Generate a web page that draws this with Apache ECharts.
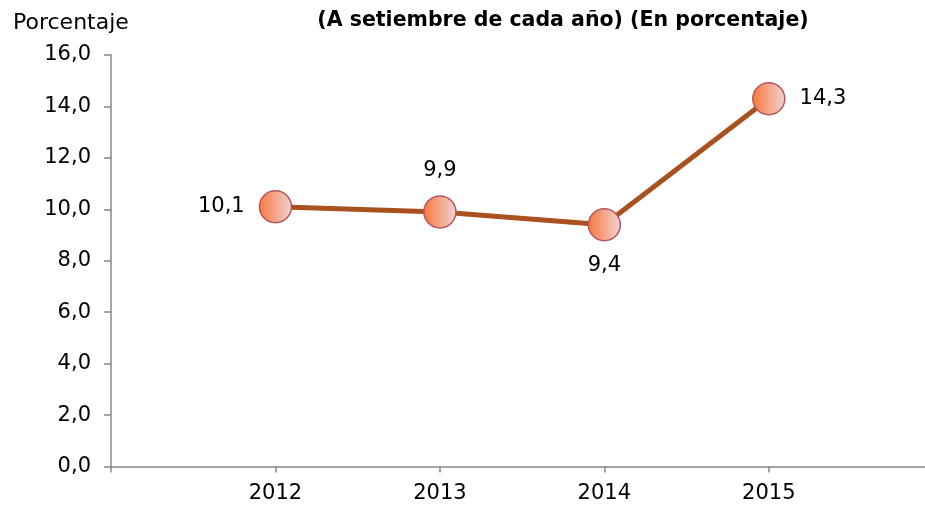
<!DOCTYPE html>
<html>
<head>
<meta charset="utf-8">
<script src="https://cdn.jsdelivr.net/npm/echarts@6/dist/echarts.min.js"></script>
<style>
  html, body { margin: 0; padding: 0; background: #fff; }
  #chart { width: 925px; height: 508px; }
</style>
</head>
<body>
<div id="chart"></div>
<script>
// datos
const years = [2012, 2013, 2014, 2015];
const values = [10.1, 9.9, 9.4, 14.3];
const labelPos = ['left', 'top', 'bottom', 'right'];
const yTicks = [0, 2, 4, 6, 8, 10, 12, 14, 16];

const fmt = v => v.toFixed(1).replace('.', ',');
const font = 'DejaVu Sans, Verdana, sans-serif';

const chart = echarts.init(document.getElementById('chart'), null, { renderer: 'canvas' });

const option = {
  animation: false,
  title: [
    {
      text: '(A setiembre de cada año) (En porcentaje)',
      left: 558, top: 5, textAlign: 'center',
      textStyle: { fontFamily: font, fontSize: 20.5, fontWeight: 'bold', color: '#000' }
    },
    {
      text: 'Porcentaje',
      left: 8, top: 7,
      textStyle: { fontFamily: font, fontSize: 22, fontWeight: 'normal', color: '#000' }
    }
  ],
  grid: { left: 111, right: 0, top: 55, bottom: 41.5 },
  xAxis: {
    type: 'value',
    min: 2011,
    max: 2015.95,
    interval: 1,
    splitLine: { show: false },
    axisLine: { lineStyle: { color: '#888', width: 1.5 } },
    axisTick: { show: true, length: 6, lineStyle: { color: '#888', width: 1.5 } },
    axisLabel: {
      fontFamily: font, fontSize: 21, color: '#000', margin: 17,
      showMaxLabel: false,
      formatter: v => (years.indexOf(v) >= 0 ? String(v) : '')
    }
  },
  yAxis: {
    type: 'value',
    min: yTicks[0],
    max: yTicks[yTicks.length - 1],
    interval: 2,
    splitLine: { show: false },
    axisLine: { show: true, lineStyle: { color: '#888', width: 1.5 } },
    axisTick: { show: true, length: 7, lineStyle: { color: '#888', width: 1.5 } },
    axisLabel: { fontFamily: font, fontSize: 21, color: '#000', margin: 20, formatter: fmt }
  },
  series: [
    {
      type: 'line',
      data: years.map((y, i) => ({
        value: [y, values[i]],
        label: { position: labelPos[i] }
      })),
      lineStyle: { color: '#A9521F', width: 5 },
      symbol: 'circle',
      symbolSize: 32,
      itemStyle: {
        color: new echarts.graphic.LinearGradient(0, 0, 1, 0, [
          { offset: 0, color: '#F7773A' },
          { offset: 1, color: '#F2D3D6' }
        ]),
        borderColor: '#B5575C',
        borderWidth: 1.5
      },
      label: {
        show: true,
        distance: 14,
        fontFamily: font, fontSize: 21, color: '#000',
        formatter: p => fmt(p.value[1])
      },
      z: 3
    }
  ]
};

chart.setOption(option);
</script>
</body>
</html>
